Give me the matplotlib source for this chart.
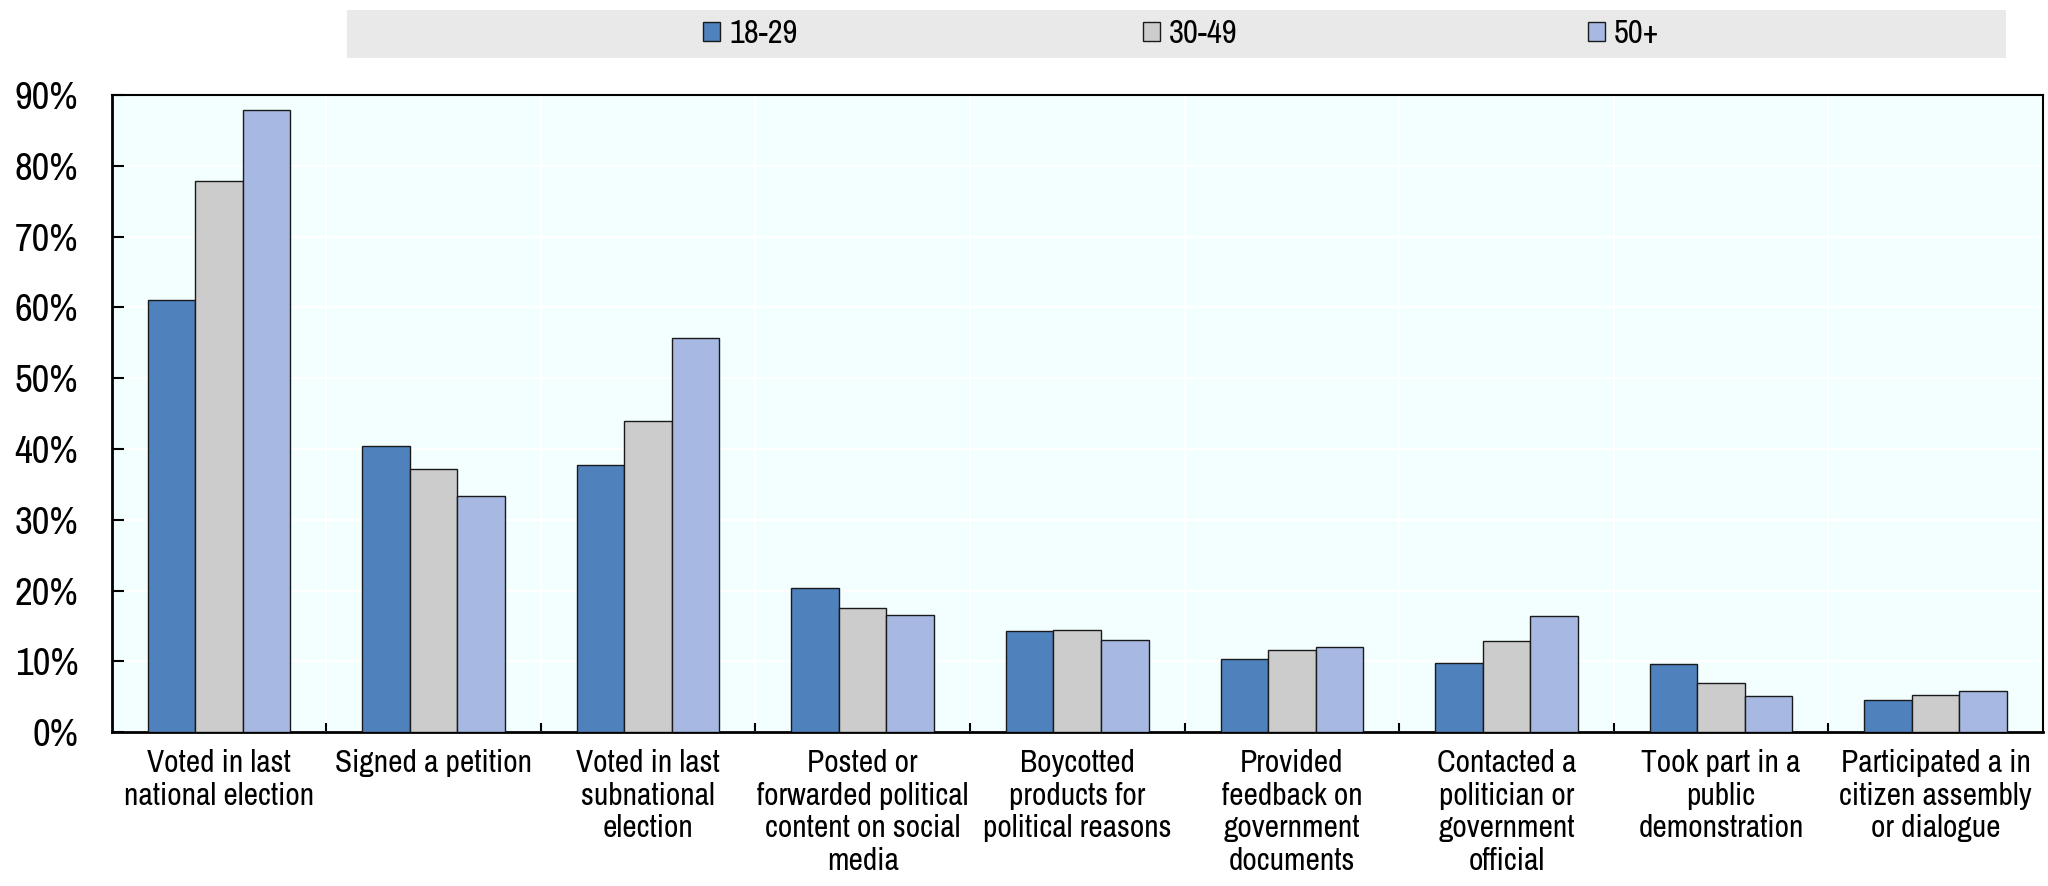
import matplotlib
matplotlib.use("Agg")
import matplotlib.pyplot as plt
from matplotlib.patches import Rectangle, Patch
from matplotlib.ticker import FuncFormatter
import numpy as np

plt.rcParams['font.family'] = ['Archivo Narrow', 'PT Sans Narrow', 'Liberation Sans', 'DejaVu Sans']

categories = [
    "Voted in last\nnational election",
    "Signed a petition",
    "Voted in last\nsubnational\nelection",
    "Posted or\nforwarded political\ncontent on social\nmedia",
    "Boycotted\nproducts for\npolitical reasons",
    "Provided\nfeedback on\ngovernment\ndocuments",
    "Contacted a\npolitician or\ngovernment\nofficial",
    "Took part in a\npublic\ndemonstration",
    "Participated a in\ncitizen assembly\nor dialogue",
]
series_names = ["18-29", "30-49", "50+"]
age_18_29 = [61.1, 40.4, 37.8, 20.4, 14.3, 10.3, 9.8, 9.7, 4.5]
age_30_49 = [77.8, 37.2, 44.0, 17.5, 14.4, 11.6, 12.9, 6.9, 5.3]
age_50_plus = [87.9, 33.4, 55.7, 16.5, 13.1, 12.0, 16.4, 5.1, 5.8]
y_ticks = [0, 10, 20, 30, 40, 50, 60, 70, 80, 90]

colors = ["#4F81BD", "#CCCCCC", "#A7B9E3"]
values = [age_18_29, age_30_49, age_50_plus]

fig = plt.figure(figsize=(20.48, 8.86), dpi=100)
ax = fig.add_axes([0.0545, 0.1735, 0.943, 0.7193])
ax.set_facecolor("#F3FEFF")

x = np.arange(len(categories))
bw = 0.2215
for k, (vals, col, name) in enumerate(zip(values, colors, series_names)):
    ax.bar(x + (k - 1) * bw, vals, width=bw, color=col, edgecolor="#1a1a1a",
           linewidth=1.0, label=name, zorder=3)

ax.set_xlim(-0.5, len(categories) - 0.5)
ax.set_ylim(0, 90)
ax.set_yticks(y_ticks)
ax.yaxis.set_major_formatter(FuncFormatter(lambda v, p: f"{int(v)}%"))
ax.set_xticks(x)
ax.set_xticklabels(categories, fontsize=22.6, linespacing=1.2)
ax.set_xticks(np.arange(-0.5, len(categories) - 0.5, 1.0)[1:], minor=True)

ax.tick_params(axis="x", which="major", length=0, pad=12)
ax.tick_params(axis="x", which="minor", direction="in", length=6.5, width=1.5, color="black")
ax.tick_params(axis="y", direction="in", length=8.5, width=1.5, labelsize=28, pad=24)

ax.grid(axis="y", which="major", color="white", linewidth=1.5, zorder=1)
ax.grid(axis="x", which="minor", color="white", linewidth=1.5, zorder=1)
ax.set_axisbelow(True)

for side in ["left", "bottom"]:
    ax.spines[side].set_linewidth(2.0)
    ax.spines[side].set_color("black")
for side in ["top", "right"]:
    ax.spines[side].set_linewidth(1.5)
    ax.spines[side].set_color("black")

# legend band across the top
fig.patches.append(Rectangle((347 / 2048, 1 - 58 / 886), (2006 - 347) / 2048, 48 / 886,
                             transform=fig.transFigure, facecolor="#E9E9E9",
                             edgecolor="none", zorder=0))
for name, col, xpos in zip(series_names, colors, [703, 1143, 1588]):
    h = Patch(facecolor=col, edgecolor="#1a1a1a", linewidth=1.0)
    fig.legend([h], [name], loc="center left",
               bbox_to_anchor=(xpos / 2048, 1 - 34 / 886),
               frameon=False, fontsize=23.5, handlelength=0.52, handleheight=0.52,
               handletextpad=0.28, borderpad=0, borderaxespad=0)

fig.savefig("out.png", dpi=100)
